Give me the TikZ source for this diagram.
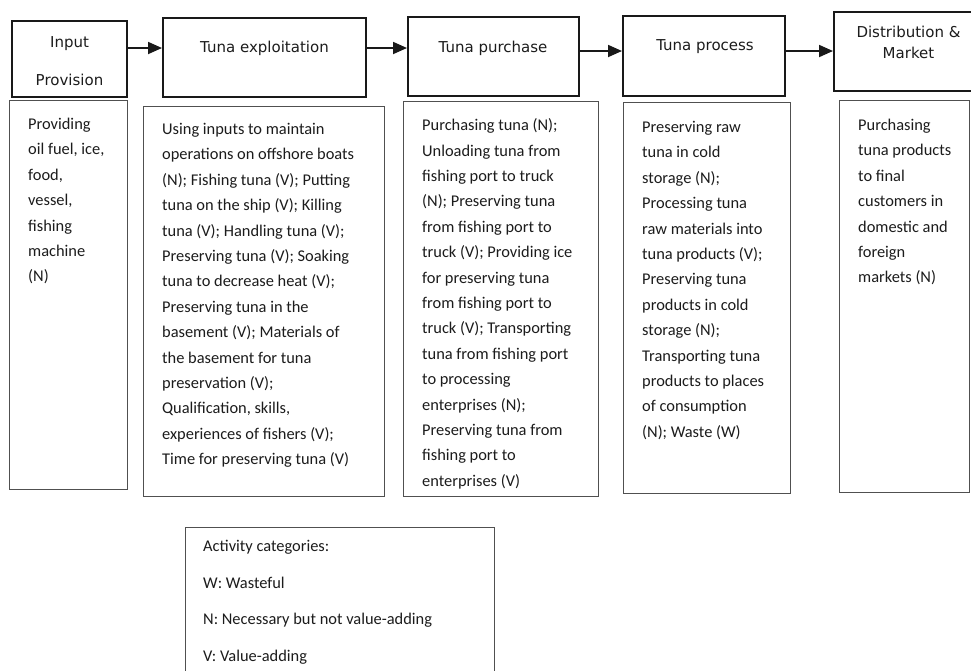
\documentclass[tikz,border=0pt]{standalone}
\usepackage{fontspec}
\setmainfont{Carlito}
\newfontfamily\headfont{DejaVu Sans}
\usetikzlibrary{arrows.meta}
\definecolor{ink}{HTML}{1C1C1C}
\definecolor{frame}{HTML}{505050}
\begin{document}
\begin{tikzpicture}[x=1pt,y=-1pt,
  headbox/.style={draw=black!90, line width=2pt, inner sep=0pt},
  detailbox/.style={draw=frame, line width=1pt, inner sep=0pt},
  headtext/.style={font=\headfont\fontsize{15}{18}\selectfont, text=ink, align=center, inner sep=0pt},
  bodytext/.style={font=\fontsize{16.4}{25.4}\selectfont, text=ink, align=left, inner sep=0pt, anchor=north west},
  legendtext/.style={font=\fontsize{16.4}{36.5}\selectfont, text=ink, align=left, inner sep=0pt, anchor=north west},
  flow/.style={line width=1.8pt, draw=black!90, -{Triangle[length=14pt,width=12pt]}}
]
\clip (0,0) rectangle (971,670);
\fill[white] (0,0) rectangle (971,670);

% stage boxes
\node[headbox, minimum width=115pt, minimum height=76pt] (h1) at (69.5,59) {};
\node[headbox, minimum width=203pt, minimum height=79pt] (h2) at (264.5,57.5) {};
\node[headbox, minimum width=171pt, minimum height=79pt] (h3) at (493.5,56.5) {};
\node[headbox, minimum width=162pt, minimum height=80pt] (h4) at (704,56) {};
\node[headbox, minimum width=149pt, minimum height=79pt] (h5) at (908.5,51.5) {};

% stage titles
\node[headtext] (t1) at (69.5,61.5) {Input\\[20pt]Provision};
\node[headtext] (t2) at (264.5,48) {Tuna exploitation};
\node[headtext] (t3) at (493,48) {Tuna purchase};
\node[headtext] (t4) at (705,47) {Tuna process};
\node[headtext, font=\headfont\fontsize{15}{21}\selectfont] (t5) at (908.5,42.5) {Distribution \&\\Market};

% flow between stages
\draw[flow] (h1.east |- 0,48) -- (h2.west |- 0,48);
\draw[flow] (h2.east |- 0,48) -- (h3.west |- 0,48);
\draw[flow] (h3.east |- 0,51) -- (h4.west |- 0,51);
\draw[flow] (h4.east |- 0,51) -- (h5.west |- 0,51);

% activity boxes
\node[detailbox, minimum width=118pt, minimum height=389pt] (b1) at (68,294.5) {};
\node[detailbox, minimum width=241pt, minimum height=390pt] (b2) at (263.5,301) {};
\node[detailbox, minimum width=195pt, minimum height=395pt] (b3) at (500.5,298.5) {};
\node[detailbox, minimum width=167pt, minimum height=391pt] (b4) at (706.5,297.5) {};
\node[detailbox, minimum width=130pt, minimum height=392pt] (b5) at (904,296) {};

% activities
\node[bodytext] (d1) at (28,118) {Providing\\oil fuel, ice,\\food,\\vessel,\\fishing\\machine\\(N)};
\node[bodytext] (d2) at (162,123) {Using inputs to maintain\\operations on offshore boats\\(N); Fishing tuna (V); Putting\\tuna on the ship (V); Killing\\tuna (V); Handling tuna (V);\\Preserving tuna (V); Soaking\\tuna to decrease heat (V);\\Preserving tuna in the\\basement (V); Materials of\\the basement for tuna\\preservation (V);\\Qualification, skills,\\experiences of fishers (V);\\Time for preserving tuna (V)};
\node[bodytext] (d3) at (422,118.5) {Purchasing tuna (N);\\Unloading tuna from\\fishing port to truck\\(N); Preserving tuna\\from fishing port to\\truck (V); Providing ice\\for preserving tuna\\from fishing port to\\truck (V); Transporting\\tuna from fishing port\\to processing\\enterprises (N);\\Preserving tuna from\\fishing port to\\enterprises (V)};
\node[bodytext] (d4) at (642,121) {Preserving raw\\tuna in cold\\storage (N);\\Processing tuna\\raw materials into\\tuna products (V);\\Preserving tuna\\products in cold\\storage (N);\\Transporting tuna\\products to places\\of consumption\\(N); Waste (W)};
\node[bodytext] (d5) at (858,119) {Purchasing\\tuna products\\to final\\customers in\\domestic and\\foreign\\markets (N)};

% legend
\node[detailbox, minimum width=309pt, minimum height=180pt] (legend) at (339.5,617) {};
\node[legendtext] (key) at (203,540) {Activity categories:\\W: Wasteful\\N: Necessary but not value-adding\\V: Value-adding};
\end{tikzpicture}
\end{document}
